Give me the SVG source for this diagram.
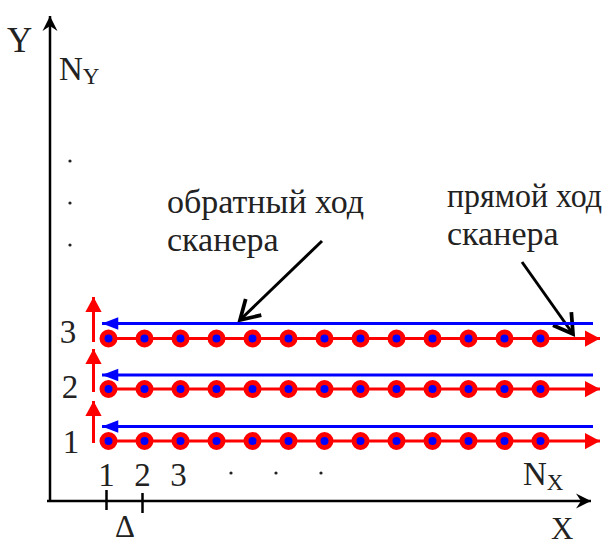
<svg xmlns="http://www.w3.org/2000/svg" width="610" height="543" viewBox="0 0 610 543">
<defs>
<style>
text{font-family:"Liberation Serif","DejaVu Serif","Noto Serif",serif;fill:#222}
.ax{stroke:#000;stroke-width:2.5;fill:none}
.red{stroke:#ff0000;stroke-width:3;fill:none}
.blue{stroke:#0000ff;stroke-width:3;fill:none}
.ann{stroke:#000;stroke-width:3;fill:none}
.dot{fill:#0000ff;stroke:#ff0000;stroke-width:5}
.num{font-size:33px;text-anchor:middle}
.note{font-size:34px}
</style>
<marker id="axh" markerUnits="userSpaceOnUse" markerWidth="20" markerHeight="20" refX="0" refY="0" viewBox="-14 -8 16 16" orient="auto">
<path d="M-12,-6 L0,0 L-12,6 L-8,0 Z" fill="#000"/>
</marker>
<marker id="rh" markerUnits="userSpaceOnUse" markerWidth="20" markerHeight="20" refX="0" refY="0" viewBox="-14 -8 16 16" orient="auto">
<path d="M-12,-6.5 L0,0 L-12,6.5 Z" fill="#ff0000"/>
</marker>
<marker id="bh" markerUnits="userSpaceOnUse" markerWidth="20" markerHeight="20" refX="0" refY="0" viewBox="-14 -8 16 16" orient="auto">
<path d="M-13,-5 L0,0 L-13,5 Z" fill="#0000ff"/>
</marker>
<marker id="ch" markerUnits="userSpaceOnUse" markerWidth="30" markerHeight="30" refX="0" refY="0" viewBox="-20 -12 24 24" orient="auto">
<path d="M-15,-9 L0,0 L-15,9" fill="none" stroke="#000" stroke-width="3"/>
</marker>
</defs>

<g id="axes">
<line class="ax" x1="50" y1="501" x2="50" y2="16" marker-end="url(#axh)"/>
<line class="ax" x1="47" y1="501" x2="591" y2="501" marker-end="url(#axh)"/>
<line class="ax" x1="106.5" y1="490" x2="106.5" y2="510"/>
<line class="ax" x1="142.5" y1="493" x2="142.5" y2="513"/>
</g>

<g id="labels">
<text x="7" y="52" font-size="35">Y</text>
<text x="59" y="80" font-size="33">N<tspan font-size="23" dy="4">Y</tspan></text>
<text x="551" y="539" font-size="31">X</text>
<text x="523" y="485" font-size="33">N<tspan font-size="23" dy="5">X</tspan></text>
<text x="125" y="537" font-size="31" text-anchor="middle">Δ</text>
<text class="num" x="106.5" y="486">1</text>
<text class="num" x="142.5" y="486">2</text>
<text class="num" x="178.5" y="486">3</text>
<text class="num" x="68" y="343">3</text>
<text class="num" x="70" y="398">2</text>
<text class="num" x="71" y="453">1</text>
<circle cx="231" cy="473" r="1.6" fill="#222"/>
<circle cx="276" cy="473" r="1.6" fill="#222"/>
<circle cx="321" cy="473" r="1.6" fill="#222"/>
<circle cx="70" cy="161" r="1.6" fill="#222"/>
<circle cx="70" cy="203" r="1.6" fill="#222"/>
<circle cx="70" cy="245" r="1.6" fill="#222"/>
<text class="note" x="167" y="213">обратный ход</text>
<text class="note" x="167" y="251">сканера</text>
<text class="note" x="447" y="207" textLength="155" lengthAdjust="spacingAndGlyphs">прямой ход</text>
<text class="note" x="447" y="245">сканера</text>
</g>

<g id="connectors">
<line class="ann" x1="322" y1="241" x2="240" y2="320" marker-end="url(#ch)"/>
<line class="ann" x1="522" y1="262" x2="573" y2="334" marker-end="url(#ch)"/>
<line class="red" x1="93.5" y1="342" x2="93.5" y2="297" marker-end="url(#rh)"/>
<line class="red" x1="93.5" y1="392" x2="93.5" y2="349" marker-end="url(#rh)"/>
<line class="red" x1="93.5" y1="443" x2="93.5" y2="401" marker-end="url(#rh)"/>
<line class="blue" x1="593" y1="323.5" x2="102" y2="323.5" marker-end="url(#bh)"/>
<line class="blue" x1="593" y1="375" x2="102" y2="375" marker-end="url(#bh)"/>
<line class="blue" x1="593" y1="426.5" x2="102" y2="426.5" marker-end="url(#bh)"/>
<line class="red" x1="105" y1="338.5" x2="600" y2="338.5" marker-end="url(#rh)"/>
<line class="red" x1="105" y1="389" x2="600" y2="389" marker-end="url(#rh)"/>
<line class="red" x1="105" y1="441" x2="600" y2="441" marker-end="url(#rh)"/>
</g>

<g id="row3">
<circle class="dot" cx="108.5" cy="338.5" r="6.5"/><circle class="dot" cx="144.5" cy="338.5" r="6.5"/><circle class="dot" cx="180.5" cy="338.5" r="6.5"/><circle class="dot" cx="216.5" cy="338.5" r="6.5"/><circle class="dot" cx="252.5" cy="338.5" r="6.5"/><circle class="dot" cx="288.5" cy="338.5" r="6.5"/><circle class="dot" cx="324.5" cy="338.5" r="6.5"/><circle class="dot" cx="360.5" cy="338.5" r="6.5"/><circle class="dot" cx="396.5" cy="338.5" r="6.5"/><circle class="dot" cx="432.5" cy="338.5" r="6.5"/><circle class="dot" cx="468.5" cy="338.5" r="6.5"/><circle class="dot" cx="504.5" cy="338.5" r="6.5"/><circle class="dot" cx="540.5" cy="338.5" r="6.5"/>
</g>
<g id="row2">
<circle class="dot" cx="108.5" cy="389" r="6.5"/><circle class="dot" cx="144.5" cy="389" r="6.5"/><circle class="dot" cx="180.5" cy="389" r="6.5"/><circle class="dot" cx="216.5" cy="389" r="6.5"/><circle class="dot" cx="252.5" cy="389" r="6.5"/><circle class="dot" cx="288.5" cy="389" r="6.5"/><circle class="dot" cx="324.5" cy="389" r="6.5"/><circle class="dot" cx="360.5" cy="389" r="6.5"/><circle class="dot" cx="396.5" cy="389" r="6.5"/><circle class="dot" cx="432.5" cy="389" r="6.5"/><circle class="dot" cx="468.5" cy="389" r="6.5"/><circle class="dot" cx="504.5" cy="389" r="6.5"/><circle class="dot" cx="540.5" cy="389" r="6.5"/>
</g>
<g id="row1">
<circle class="dot" cx="108.5" cy="441" r="6.5"/><circle class="dot" cx="144.5" cy="441" r="6.5"/><circle class="dot" cx="180.5" cy="441" r="6.5"/><circle class="dot" cx="216.5" cy="441" r="6.5"/><circle class="dot" cx="252.5" cy="441" r="6.5"/><circle class="dot" cx="288.5" cy="441" r="6.5"/><circle class="dot" cx="324.5" cy="441" r="6.5"/><circle class="dot" cx="360.5" cy="441" r="6.5"/><circle class="dot" cx="396.5" cy="441" r="6.5"/><circle class="dot" cx="432.5" cy="441" r="6.5"/><circle class="dot" cx="468.5" cy="441" r="6.5"/><circle class="dot" cx="504.5" cy="441" r="6.5"/><circle class="dot" cx="540.5" cy="441" r="6.5"/>
</g>
</svg>
